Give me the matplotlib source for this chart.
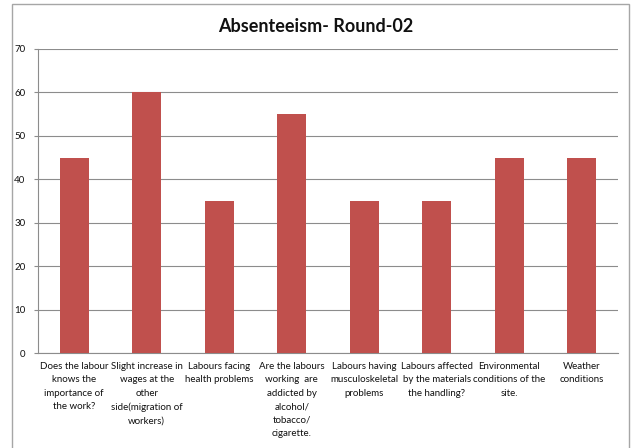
import matplotlib
matplotlib.use("Agg")
import matplotlib.pyplot as plt
from matplotlib.patches import Rectangle

# survey items and their counts
categories = [
    "Does the labour\nknows the\nimportance of\nthe work?",
    "Slight increase in\nwages at the\nother\nside(migration of\nworkers)",
    "Labours facing\nhealth problems",
    "Are the labours\nworking  are\naddicted by\nalcohol/\ntobacco/\ncigarette.",
    "Labours having\nmusculoskeletal\nproblems",
    "Labours affected\nby the materials\nthe handling?",
    "Environmental\nconditions of the\nsite.",
    "Weather\nconditions",
]
values = [45, 60, 35, 55, 35, 35, 45, 45]
yticks = [0, 10, 20, 30, 40, 50, 60, 70]

W, H = 631, 448
plt.rcParams["font.family"] = ["Lato", "DejaVu Sans"]

fig = plt.figure(figsize=(W / 100, H / 100), dpi=100)
fig.patch.set_facecolor("white")

# outer chart frame
fig.add_artist(Rectangle((12 / W, -0.01), (629 - 12) / W, (H - 4) / H + 0.01,
                         transform=fig.transFigure, fill=False,
                         edgecolor="#a6a6a6", linewidth=1.0))

ax = fig.add_axes([38 / W, 1 - 353 / H, (618 - 38) / W, (353 - 49) / H])
x = range(len(values))
ax.bar(x, values, width=0.4, color="#c0504d", zorder=3)
ax.set_xlim(-0.5, len(values) - 0.5)
ax.set_ylim(0, 70)
ax.set_yticks(yticks)
ax.set_yticklabels([str(v) for v in yticks], fontsize=7, color="#111111")
ax.yaxis.grid(True, color="#8c8c8c", linewidth=0.8, zorder=0)
ax.set_axisbelow(True)
for s in ["top", "right"]:
    ax.spines[s].set_visible(False)
for s in ["left", "bottom"]:
    ax.spines[s].set_color("#8c8c8c")
    ax.spines[s].set_linewidth(0.8)
ax.tick_params(axis="y", length=3, width=0.8, color="#8c8c8c", pad=6)
ax.tick_params(axis="x", length=0)
ax.set_xticks(list(x))
ax.set_xticklabels([])

for i, lab in enumerate(categories):
    ax.text(i, -2.0, lab, ha="center", va="top", fontsize=7, color="#111111",
            linespacing=1.65, transform=ax.transData, clip_on=False)

fig.text(0.5, 1 - 26 / H, "Absenteeism- Round-02", ha="center", va="center",
         fontsize=13, fontweight="bold", color="#111111")

fig.savefig("out.png", dpi=100, facecolor="white")
